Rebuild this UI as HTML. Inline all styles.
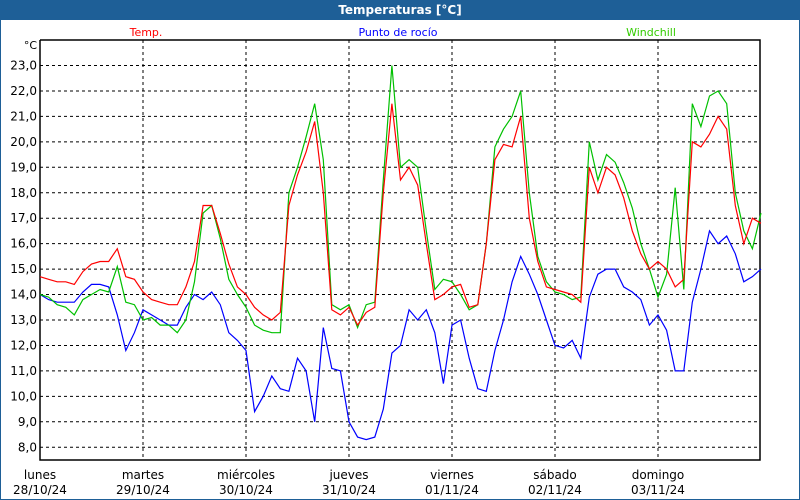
<!DOCTYPE html>
<html><head><meta charset="utf-8"><style>
body{margin:0;width:800px;height:500px;background:#fff;overflow:hidden;font-family:"DejaVu Sans","Liberation Sans",sans-serif;}
#frame{position:absolute;left:0;top:0;width:798px;height:498px;border:1px solid #1e5f97;}
#title{position:absolute;left:0;top:0;width:800px;height:20px;background:#1e5f97;color:#fff;font-weight:bold;font-size:12px;text-align:center;line-height:20px;}
svg{position:absolute;left:0;top:0}
</style></head><body>
<div id="frame"></div>
<div id="title">Temperaturas [°C]</div>
<svg id="chart" width="800" height="500"></svg>
<script>
const dayNames=["lunes","martes","miércoles","jueves","viernes","sábado","domingo"];
const dayDates=["28/10/24","29/10/24","30/10/24","31/10/24","01/11/24","02/11/24","03/11/24"];
const yTicks=[8,9,10,11,12,13,14,15,16,17,18,19,20,21,22,23];
const stepHours=2;
const temp=[14.7,14.6,14.5,14.5,14.4,14.9,15.2,15.3,15.3,15.8,14.7,14.6,14.1,13.8,13.7,13.6,13.6,14.3,15.3,17.5,17.5,16.4,15.2,14.3,14.0,13.5,13.2,13.0,13.3,17.5,18.7,19.6,20.8,18.0,13.4,13.2,13.5,12.8,13.3,13.5,18.0,21.5,18.5,19.0,18.3,16.0,13.8,14.0,14.3,14.4,13.5,13.6,16.0,19.3,19.9,19.8,21.0,17.0,15.3,14.3,14.2,14.1,14.0,13.7,19.0,18.0,19.0,18.7,17.8,16.5,15.6,15.0,15.3,15.0,14.3,14.6,20.0,19.8,20.3,21.0,20.5,17.5,16.0,17.0,16.8];
const windchill=[14.0,13.9,13.6,13.5,13.2,13.8,14.0,14.2,14.1,15.1,13.7,13.6,13.0,13.1,12.8,12.8,12.5,13.0,14.5,17.2,17.5,16.2,14.6,14.0,13.5,12.8,12.6,12.5,12.5,18.0,19.0,20.2,21.5,19.3,13.6,13.4,13.6,12.7,13.6,13.7,18.5,23.0,19.0,19.3,19.0,16.5,14.2,14.6,14.5,14.0,13.4,13.6,16.0,19.8,20.5,21.0,22.0,18.0,15.5,14.5,14.1,14.0,13.8,13.9,20.0,18.5,19.5,19.2,18.4,17.4,16.0,15.0,13.9,14.8,18.2,14.2,21.5,20.6,21.8,22.0,21.5,18.0,16.5,15.8,17.2];
const dewpoint=[14.0,13.8,13.7,13.7,13.7,14.1,14.4,14.4,14.3,13.2,11.8,12.5,13.4,13.2,13.0,12.8,12.8,13.5,14.0,13.8,14.1,13.6,12.5,12.2,11.8,9.4,10.0,10.8,10.3,10.2,11.5,11.0,9.0,12.7,11.1,11.0,9.0,8.4,8.3,8.4,9.5,11.7,12.0,13.4,13.0,13.4,12.5,10.5,12.8,13.0,11.5,10.3,10.2,11.8,13.0,14.5,15.5,14.8,14.0,13.0,12.0,11.9,12.2,11.5,13.9,14.8,15.0,15.0,14.3,14.1,13.8,12.8,13.2,12.6,11.0,11.0,13.7,15.0,16.5,16.0,16.3,15.6,14.5,14.7,15.0];

const L=40,T=40,R=760,B=460;
const X=h=>L+h*103/24;
const Y=v=>65.5+(23-v)*25.45;
const svg=document.getElementById('chart');
const NS='http://www.w3.org/2000/svg';
function mk(tag,attrs){const e=document.createElementNS(NS,tag);for(const k in attrs)e.setAttribute(k,attrs[k]);svg.appendChild(e);return e;}
// grid
yTicks.forEach(v=>{
  const g=mk('line',{x1:L,x2:R,y1:Y(v),y2:Y(v),stroke:'#000','stroke-dasharray':'3,3','stroke-width':1});
  
  
  const t=mk('text',{x:37,y:Y(v)+4,'text-anchor':'end','font-size':12,fill:'#000'});
  t.textContent=v.toFixed(1).replace('.',',');
  
  
});
dayNames.forEach((d,i)=>{
  const x=X(i*24);
  if(i>0){const g=mk('line',{x1:x,x2:x,y1:T,y2:B,stroke:'#000','stroke-dasharray':'3,3'});
  
  }
  const t1=mk('text',{x:x,y:479,'text-anchor':'middle','font-size':12});
  t1.textContent=d;
  
  
  const t2=mk('text',{x:x,y:494,'text-anchor':'middle','font-size':12});
  t2.textContent=dayDates[i];
  
  
});
const ax=mk('path',{d:`M${L},${T}V${B}H${R}V${T}H${L}`,fill:'none',stroke:'#000','stroke-width':1.5});


const u=mk('text',{x:37,y:49,'text-anchor':'end','font-size':11});
u.textContent='°C';


function series(arr,color,name){
  const d=arr.map((v,i)=>(i?'L':'M')+X(i*stepHours).toFixed(1)+','+Y(v).toFixed(1)).join('');
  const p=mk('path',{d:d,fill:'none',stroke:color,'stroke-width':1.2});
  
  
}
series(dewpoint,'#0000ff','dewpoint-line');
series(windchill,'#00c000','windchill-line');
series(temp,'#ff0000','temperature-line');
[['Temp.',146,'#ff0000','legend-temp'],['Punto de rocío',398,'#0000ff','legend-dewpoint'],['Windchill',651,'#33cc00','legend-windchill']].forEach(a=>{
  const t=mk('text',{x:a[1],y:36,'text-anchor':'middle','font-size':11,fill:a[2]});
  t.textContent=a[0];
  
  
});
</script>
</body></html>
